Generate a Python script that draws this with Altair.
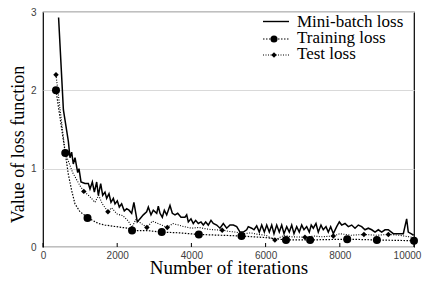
import altair as alt
import pandas as pd

# ---------------- data ----------------
mini_iter = [420, 550, 683, 728, 772, 817, 863, 935, 970, 1024, 1132, 1222, 1267, 1330, 1384,
             1447, 1492, 1555, 1609, 1671, 1716, 1779, 1833, 1896, 1941, 2003, 2057, 2120, 2191,
             2255, 2318, 2390, 2450, 2542, 2615, 2704, 2794, 2839, 2911, 2973, 3065, 3108, 3154,
             3216, 3270, 3334, 3423, 3486, 3558, 3631, 3720, 3827, 3873, 3917, 3989, 4051, 4115,
             4186, 4259, 4321, 4385, 4455, 4528, 4590, 4682, 4771, 4860, 4951, 5040, 5130, 5221,
             5310, 5400, 5490, 5533, 5625, 5687, 5760, 5831, 5895, 5966, 6030, 6100, 6165, 6226,
             6299, 6369, 6434, 6496, 6569, 6639, 6704, 6765, 6838, 6908, 6973, 7035, 7107, 7178,
             7230, 7286, 7358, 7420, 7493, 7555, 7628, 7690, 7754, 7826, 7916, 7987, 8051, 8140,
             8230, 8321, 8410, 8499, 8590, 8679, 8768, 8860, 8949, 9038, 9129, 9218, 9307, 9442,
             9577, 9712, 9802, 9846, 9919, 9990]
mini_loss = [2.93, 1.75, 1.35, 1.14, 1.21, 1.06, 1.14, 0.95, 1.00, 0.83, 0.81, 0.81, 0.74, 0.83, 0.70,
             0.83, 0.66, 0.81, 0.66, 0.70, 0.62, 0.68, 0.57, 0.62, 0.55, 0.59, 0.51, 0.55, 0.46,
             0.49, 0.47, 0.43, 0.57, 0.32, 0.36, 0.41, 0.45, 0.51, 0.41, 0.47, 0.43, 0.52, 0.43,
             0.38, 0.47, 0.41, 0.53, 0.43, 0.41, 0.43, 0.38, 0.38, 0.41, 0.32, 0.36, 0.30, 0.34,
             0.30, 0.32, 0.28, 0.32, 0.28, 0.34, 0.30, 0.28, 0.24, 0.30, 0.24, 0.28, 0.28, 0.26,
             0.19, 0.19, 0.22, 0.26, 0.24, 0.22, 0.27, 0.19, 0.28, 0.19, 0.28, 0.19, 0.28, 0.17,
             0.28, 0.19, 0.28, 0.17, 0.26, 0.19, 0.28, 0.17, 0.26, 0.19, 0.28, 0.22, 0.26, 0.19,
             0.28, 0.24, 0.30, 0.19, 0.28, 0.22, 0.26, 0.19, 0.26, 0.17, 0.26, 0.32, 0.28, 0.30,
             0.26, 0.28, 0.24, 0.28, 0.26, 0.22, 0.24, 0.22, 0.19, 0.22, 0.19, 0.22, 0.22, 0.17,
             0.17, 0.17, 0.36, 0.19, 0.17, 0.15]

train_line_iter = [350, 600, 682, 773, 862, 997, 1221, 1492, 1671, 2120, 2300, 2400, 2800, 3200,
                   3700, 4200, 4800, 5350, 6000, 6550, 7200, 8200, 9000, 10000]
train_line_loss = [2.00, 1.20, 0.93, 0.72, 0.55, 0.45, 0.37, 0.30, 0.28, 0.25, 0.24, 0.21, 0.21, 0.19,
                   0.18, 0.16, 0.15, 0.14, 0.12, 0.09, 0.09, 0.10, 0.09, 0.08]
train_mark_iter = [350, 600, 1200, 2400, 3200, 4200, 5350, 6550, 7200, 8200, 9000, 10000]
train_mark_loss = [2.00, 1.20, 0.37, 0.21, 0.19, 0.16, 0.14, 0.09, 0.09, 0.10, 0.09, 0.08]

test_line_iter = [350, 600, 800, 1000, 1100, 1250, 1400, 1500, 1600, 1750, 1850, 2000, 2150, 2300,
                  2400, 2500, 2650, 2800, 2950, 3100, 3200, 3350, 3500, 3650, 3800, 4000, 4200,
                  4400, 4600, 4830, 5000, 5200, 5400, 5600, 5800, 6000, 6250, 6500, 6700, 7060,
                  7300, 7500, 7825, 8000, 8300, 8650, 9000, 9310, 9600, 10000]
test_line_loss = [2.20, 1.20, 0.95, 0.78, 0.71, 0.65, 0.57, 0.66, 0.55, 0.45, 0.50, 0.42, 0.40, 0.33,
                  0.25, 0.35, 0.30, 0.25, 0.33, 0.30, 0.28, 0.25, 0.30, 0.28, 0.26, 0.24, 0.25,
                  0.23, 0.22, 0.215, 0.20, 0.19, 0.17, 0.18, 0.16, 0.15, 0.09, 0.15, 0.13, 0.125,
                  0.14, 0.13, 0.14, 0.17, 0.15, 0.16, 0.15, 0.16, 0.15, 0.12]
test_mark_iter = [350, 1100, 1750, 2800, 3350, 4830, 6250, 7060, 7825, 8650, 9310]
test_mark_loss = [2.20, 0.71, 0.45, 0.25, 0.25, 0.215, 0.09, 0.125, 0.14, 0.16, 0.16]

x_ticks = [0, 2000, 4000, 6000, 8000, 10000]
y_ticks = [0, 0.5, 1, 1.5, 2, 2.5, 3]
legend_labels = ["Mini-batch loss", "Training loss", "Test loss"]

# ---------------- chart ----------------
W, H = 371, 235
SERIF = "Times New Roman, Liberation Serif, serif"
SANS = "Liberation Sans, Arial, sans-serif"

mini_df = pd.DataFrame({"iter": mini_iter, "loss": mini_loss})
train_line_df = pd.DataFrame({"iter": train_line_iter, "loss": train_line_loss})
train_mark_df = pd.DataFrame({"iter": train_mark_iter, "loss": train_mark_loss})
test_line_df = pd.DataFrame({"iter": test_line_iter, "loss": test_line_loss})
test_mark_df = pd.DataFrame({"iter": test_mark_iter, "loss": test_mark_loss})
xt_df = pd.DataFrame({"iter": x_ticks})

x_enc = alt.X(
    "iter:Q",
    scale=alt.Scale(domain=[0, 10000], nice=False),
    axis=alt.Axis(
        values=x_ticks, format="d", grid=False, ticks=False, domain=False,
        labelFont=SANS, labelFontSize=10, labelColor="#404040", labelPadding=3,
        labelFlush=False,
        labelOffset={"condition": {"test": "datum.value == 10000", "value": -7}, "value": 0},
        title="Number of iterations", titleFont=SERIF, titleFontSize=19,
        titleFontWeight="normal", titleColor="black",
        titleBaseline="alphabetic", titleY=26.5,
    ),
)
y_enc = alt.Y(
    "loss:Q",
    scale=alt.Scale(domain=[0, 3], nice=False),
    axis=alt.Axis(
        values=y_ticks, format="~g", grid=True, gridColor="#d9d9d9", gridWidth=1,
        ticks=False, domain=False,
        labelFont=SANS, labelFontSize=10, labelColor="#404040", labelPadding=7,
        title="Value of loss function", titleFont=SERIF, titleFontSize=18,
        titleFontWeight="normal", titleColor="black",
        titleX=-25, titleY=132, titleBaseline="middle",
    ),
)

train_line = alt.Chart(train_line_df).mark_line(
    color="black", strokeWidth=1.2, strokeDash=[1.5, 1.5]
).encode(x=x_enc, y=y_enc)
test_line = alt.Chart(test_line_df).mark_line(
    color="black", strokeWidth=1.1, strokeDash=[1, 1.5]
).encode(x="iter:Q", y="loss:Q")
mini_line = alt.Chart(mini_df).mark_line(
    color="black", strokeWidth=1.5
).encode(x="iter:Q", y="loss:Q")
train_pts = alt.Chart(train_mark_df).mark_point(
    shape="circle", filled=True, color="black", size=64, opacity=1
).encode(x="iter:Q", y="loss:Q")
test_pts = alt.Chart(test_mark_df).mark_point(
    shape="diamond", filled=True, color="black", size=30, opacity=1
).encode(x="iter:Q", y="loss:Q")
x_tick_marks = alt.Chart(xt_df).mark_rule(color="black", strokeWidth=1).encode(
    x="iter:Q", y=alt.value(H), y2=alt.value(H - 4)
)

# ---- legend (top right, inside the plot) ----
lx1, lx2, lmx, ltx = 220, 246, 231, 254
sym_y = [9.5, 27, 43]
txt_y = [15, 31, 46.5]
legend_layers = []
for i, lab in enumerate(legend_labels):
    ldf = pd.DataFrame({"label": [lab]})
    dash = [] if i == 0 else ([1.5, 1.5] if i == 1 else [1, 1.5])
    rule_kwargs = dict(color="black", strokeWidth=1.4 if i == 0 else 1.2)
    if dash:
        rule_kwargs["strokeDash"] = dash
    legend_layers.append(
        alt.Chart(ldf).mark_rule(**rule_kwargs).encode(
            x=alt.value(lx1), x2=alt.value(lx2), y=alt.value(sym_y[i])
        )
    )
    if i == 1:
        legend_layers.append(
            alt.Chart(ldf).mark_point(shape="circle", filled=True, color="black",
                                      size=50, opacity=1).encode(
                x=alt.value(lmx), y=alt.value(sym_y[i]))
        )
    if i == 2:
        legend_layers.append(
            alt.Chart(ldf).mark_point(shape="diamond", filled=True, color="black",
                                      size=30, opacity=1).encode(
                x=alt.value(lmx), y=alt.value(sym_y[i]))
        )
    legend_layers.append(
        alt.Chart(ldf).mark_text(font=SERIF, fontSize=17, align="left",
                                 baseline="alphabetic", color="black").encode(
            x=alt.value(ltx), y=alt.value(txt_y[i]), text="label:N")
    )

chart = alt.layer(
    train_line, test_line, mini_line, train_pts, test_pts, x_tick_marks, *legend_layers
).properties(
    width=W, height=H,
    autosize=alt.AutoSizeParams(type="none"),
    padding={"left": 35, "top": 4, "right": 9, "bottom": 30},
    background="white",
).configure_view(
    stroke="black", strokeWidth=1.2
)

chart.save("out.html", embed_options={"renderer": "svg", "actions": False})
